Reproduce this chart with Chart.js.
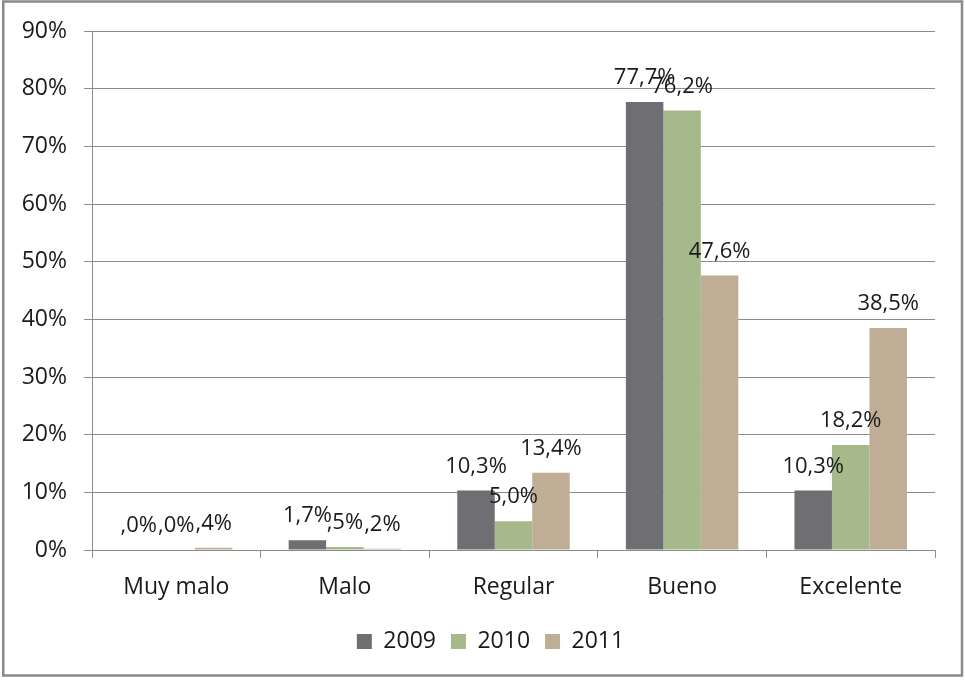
<!DOCTYPE html>
<html>
<head>
<meta charset="utf-8">
<script src="https://cdn.jsdelivr.net/npm/chart.js@4/dist/chart.umd.min.js"></script>
<style>
  html, body { margin: 0; padding: 0; background: #ffffff; }
  canvas { display: block; }
</style>
</head>
<body>
<canvas id="chart" width="965" height="682"></canvas>
<script>
// Valoración por año (porcentaje de respuestas)
const categories = ['Muy malo', 'Malo', 'Regular', 'Bueno', 'Excelente'];
const seriesNames = ['2009', '2010', '2011'];
const values2009 = [0.0, 1.7, 10.3, 77.7, 10.3];
const values2010 = [0.0, 0.5, 5.0, 76.2, 18.2];
const values2011 = [0.4, 0.2, 13.4, 47.6, 38.5];
const yTicks = [0, 10, 20, 30, 40, 50, 60, 70, 80, 90];

const colors = ['#6f6e73', '#a6b98b', '#bfad96'];
const gridColor = '#8c8c8c';
const textColor = '#1a1a1a';
const fontFamily = '"Open Sans", "Liberation Sans", sans-serif';

// Spanish-style percentage with the leading zero dropped (",4%", "1,7%")
function fmtPct(v) {
  let s = v.toFixed(1).replace('.', ',');
  if (s.startsWith('0,')) s = s.slice(1);
  return s + '%';
}

// Value labels above each bar
const barLabels = {
  id: 'barLabels',
  afterDatasetsDraw(chart) {
    const ctx = chart.ctx;
    ctx.save();
    ctx.font = '22px ' + fontFamily;
    ctx.fillStyle = textColor;
    ctx.textAlign = 'center';
    ctx.textBaseline = 'alphabetic';
    chart.data.datasets.forEach((ds, i) => {
      const meta = chart.getDatasetMeta(i);
      meta.data.forEach((bar, j) => {
        ctx.fillText(fmtPct(ds.data[j]), bar.x, bar.y - 18);
      });
    });
    ctx.restore();
  }
};

// Outer frame around the whole chart
const frame = {
  id: 'frame',
  beforeDraw(chart) {
    const ctx = chart.ctx;
    ctx.save();
    ctx.fillStyle = '#ffffff';
    ctx.fillRect(0, 0, chart.width, chart.height);
    ctx.strokeStyle = '#8a8a8a';
    ctx.lineWidth = 2.5;
    ctx.strokeRect(3.25, 1.5, 958.75, 674);
    ctx.restore();
  }
};

// Center the legend under the middle of the frame area rather than the canvas box
const legendShift = {
  id: 'legendShift',
  afterLayout(chart) {
    if (chart.legend) {
      chart.legend.left += 23;
      chart.legend.right += 23;
    }
  }
};

const seriesValues = [values2009, values2010, values2011];

new Chart(document.getElementById('chart'), {
  type: 'bar',
  data: {
    labels: categories,
    datasets: seriesNames.map((name, i) => ({
      label: name,
      data: seriesValues[i],
      backgroundColor: colors[i],
      borderWidth: 0,
      categoryPercentage: 0.667,
      barPercentage: 1.0
    }))
  },
  options: {
    responsive: false,
    animation: false,
    devicePixelRatio: 1,
    layout: { padding: { top: 31, right: 30, left: 0, bottom: 19 } },
    plugins: {
      legend: {
        position: 'bottom',
        labels: {
          boxWidth: 15,
          boxHeight: 15,
          padding: 15,
          color: textColor,
          font: { family: fontFamily, size: 23 }
        }
      },
      tooltip: { enabled: false }
    },
    scales: {
      x: {
        grid: {
          display: true,
          drawOnChartArea: false,
          drawTicks: true,
          tickLength: 8,
          offset: true,
          color: gridColor
        },
        border: { display: true, color: gridColor },
        ticks: {
          color: textColor,
          padding: 16,
          font: { family: fontFamily, size: 23 }
        },
        afterFit(scale) { scale.height = 65; }
      },
      y: {
        min: 0,
        max: 90,
        afterBuildTicks(scale) { scale.ticks = yTicks.map(v => ({ value: v })); },
        grid: {
          color: gridColor,
          drawTicks: true,
          tickLength: 8
        },
        border: { display: true, color: gridColor },
        ticks: {
          color: textColor,
          padding: 17,
          font: { family: fontFamily, size: 23 },
          callback: v => v + '%'
        },
        afterFit(scale) { scale.width = 92; }
      }
    }
  },
  plugins: [frame, legendShift, barLabels]
});
</script>
</body>
</html>
